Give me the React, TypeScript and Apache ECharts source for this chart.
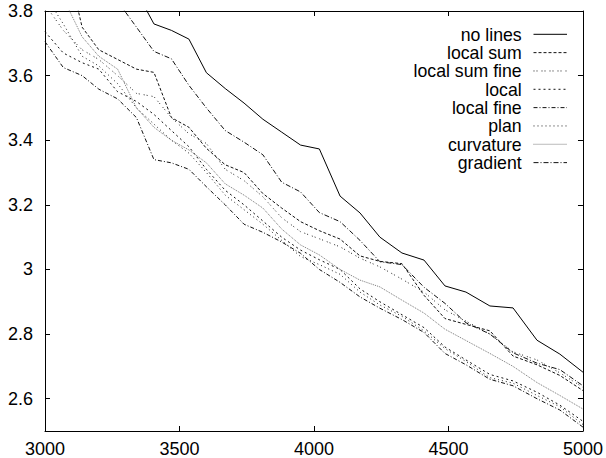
import React, { useEffect, useRef } from "react";
import * as echarts from "echarts";

const xValues = [3000, 3068, 3138, 3200, 3270, 3340, 3405, 3470, 3535, 3600, 3670, 3740, 3810, 3880, 3950, 4020, 4097, 4171, 4245, 4327, 4409, 4487, 4565, 4654, 4740, 4829, 4914, 5000];

const noLines = [4.30, 4.20, 4.10, 4.02, 3.95, 3.86, 3.76, 3.74, 3.713, 3.609, 3.56, 3.515, 3.465, 3.425, 3.385, 3.373, 3.227, 3.175, 3.10, 3.051, 3.029, 2.949, 2.930, 2.887, 2.881, 2.781, 2.738, 2.682];
const localSum = [4.20, 4.00, 3.75, 3.68, 3.65, 3.62, 3.61, 3.47, 3.44, 3.375, 3.324, 3.30, 3.235, 3.19, 3.148, 3.12, 3.094, 3.042, 3.025, 3.018, 2.92, 2.848, 2.83, 2.81, 2.732, 2.705, 2.672, 2.625];
const localSumFine = [3.82, 3.74, 3.68, 3.65, 3.60, 3.545, 3.535, 3.47, 3.42, 3.39, 3.31, 3.275, 3.225, 3.16, 3.117, 3.095, 3.07, 3.035, 3.008, 2.97, 2.93, 2.875, 2.84, 2.80, 2.745, 2.72, 2.68, 2.635];
const local = [3.736, 3.67, 3.64, 3.62, 3.55, 3.52, 3.48, 3.43, 3.38, 3.31, 3.245, 3.20, 3.15, 3.10, 3.06, 3.03, 3.00, 2.94, 2.90, 2.86, 2.82, 2.76, 2.72, 2.675, 2.655, 2.62, 2.58, 2.53];
const localFine = [3.705, 3.625, 3.60, 3.558, 3.528, 3.47, 3.34, 3.33, 3.31, 3.256, 3.20, 3.14, 3.115, 3.085, 3.05, 3.00, 2.96, 2.915, 2.88, 2.845, 2.805, 2.74, 2.705, 2.66, 2.64, 2.60, 2.565, 2.512];
const plan = [3.85, 3.76, 3.66, 3.63, 3.575, 3.50, 3.45, 3.40, 3.36, 3.30, 3.23, 3.185, 3.14, 3.09, 3.04, 3.015, 2.985, 2.93, 2.89, 2.855, 2.81, 2.755, 2.715, 2.665, 2.648, 2.61, 2.575, 2.52];
const curvature = [4.00, 3.84, 3.72, 3.66, 3.62, 3.50, 3.44, 3.40, 3.37, 3.33, 3.265, 3.23, 3.19, 3.125, 3.076, 3.045, 3.00, 2.967, 2.946, 2.905, 2.865, 2.815, 2.78, 2.74, 2.70, 2.65, 2.61, 2.568];
const gradient = [4.15, 4.08, 4.00, 3.93, 3.83, 3.75, 3.675, 3.652, 3.57, 3.50, 3.43, 3.394, 3.355, 3.27, 3.24, 3.176, 3.148, 3.09, 3.024, 3.015, 2.945, 2.895, 2.835, 2.80, 2.742, 2.71, 2.69, 2.64];

const seriesNames = ["no lines", "local sum", "local sum fine", "local", "local fine", "plan", "curvature", "gradient"];
const seriesValues = [noLines, localSum, localSumFine, local, localFine, plan, curvature, gradient];

const yTickValues = [2.6, 2.8, 3.0, 3.2, 3.4, 3.6, 3.8];

const lineStyles: { color: string; dash: number[] | "solid" }[] = [
  { color: "#000", dash: "solid" },
  { color: "#111", dash: [3, 2] },
  { color: "#222", dash: [1, 2, 1, 4] },
  { color: "#111", dash: [2, 3] },
  { color: "#111", dash: [4, 2, 1, 2] },
  { color: "#222", dash: [1, 3] },
  { color: "#777", dash: [1, 1] },
  { color: "#111", dash: [5, 2, 1, 2] },
];

const FONT = "'Liberation Sans', Arial, Helvetica, sans-serif";

export default function App() {
  const ref = useRef<HTMLDivElement>(null);
  useEffect(() => {
    if (!ref.current) return;
    const chart = echarts.init(ref.current, null, { renderer: "svg" });
    const series = seriesNames.map((name, i) => ({
      name,
      type: "line",
      symbol: "none",
      clip: true,
      data: xValues.map((x, j) => [x, seriesValues[i][j]]),
      lineStyle: {
        color: lineStyles[i].color,
        width: 1,
        type: lineStyles[i].dash,
      },
    }));
    const legendLeftText = 521.7;
    const legendTop = 34.3;
    const rowH = 18.33;
    const graphic: any[] = [];
    seriesNames.forEach((name, i) => {
      const y = legendTop + i * rowH;
      graphic.push({
        type: "text",
        x: legendLeftText,
        y: y + 0.5,
        style: {
          text: name,
          align: "right",
          verticalAlign: "middle",
          fontSize: 17.7,
          fontFamily: FONT,
          fill: "#000",
        },
      });
      graphic.push({
        type: "line",
        shape: { x1: 533.5, y1: y, x2: 567, y2: y },
        style: {
          stroke: lineStyles[i].color,
          lineWidth: 1,
          lineDash: lineStyles[i].dash === "solid" ? null : lineStyles[i].dash,
        },
      });
    });
    const axisLine = { show: true, lineStyle: { color: "#000", width: 1 } };
    chart.setOption({
      animation: false,
      backgroundColor: "#fff",
      grid: { left: 45, right: 23, top: 11, bottom: 27, containLabel: false },
      xAxis: [
        {
          type: "value",
          min: 3000,
          max: 5000,
          interval: 500,
          position: "bottom",
          axisLine,
          axisTick: { inside: true, length: 5, lineStyle: { color: "#000" } },
          axisLabel: {
            color: "#000",
            fontSize: 18,
            fontFamily: FONT,
            margin: 9,
            formatter: (v: number) => String(v),
          },
          splitLine: { show: false },
        },
        {
          type: "value",
          min: 3000,
          max: 5000,
          interval: 500,
          position: "top",
          axisLine,
          axisTick: { inside: true, length: 5, lineStyle: { color: "#000" } },
          axisLabel: { show: false },
          splitLine: { show: false },
        },
      ],
      yAxis: [
        {
          type: "value",
          min: 2.5,
          max: 3.8,
          position: "left",
          axisLine,
          axisTick: { inside: true, length: 5, customValues: yTickValues, lineStyle: { color: "#000" } },
          axisLabel: {
            color: "#000",
            fontSize: 18,
            fontFamily: FONT,
            margin: 12,
            customValues: yTickValues,
            formatter: (v: number) => String(v),
          },
          splitLine: { show: false },
        },
        {
          type: "value",
          min: 2.5,
          max: 3.8,
          position: "right",
          axisLine,
          axisTick: { inside: true, length: 5, customValues: yTickValues, lineStyle: { color: "#000" } },
          axisLabel: { show: false },
          splitLine: { show: false },
        },
      ],
      series,
      graphic,
    });
    return () => chart.dispose();
  }, []);
  return (
    <div
      ref={ref}
      style={{ position: "fixed", left: 0, top: 0, width: 606, height: 458, background: "#fff" }}
    />
  );
}
